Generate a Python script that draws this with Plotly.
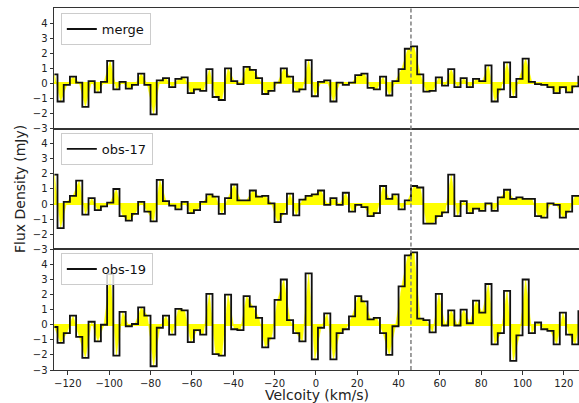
import plotly.graph_objects as go
from plotly.subplots import make_subplots

# Channel centre velocities (km/s)
velocity = [-126.5, -123.5, -120.5, -117.5, -114.5, -111.5, -108.5, -105.5, -102.5, -99.5,
            -96.5, -93.5, -90.5, -87.5, -84.5, -81.5, -78.5, -75.5, -72.5, -69.5,
            -66.5, -63.5, -60.5, -57.5, -54.5, -51.5, -48.5, -45.5, -42.5, -39.5,
            -36.5, -33.5, -30.5, -27.5, -24.5, -21.5, -18.5, -15.5, -12.5, -9.5,
            -6.5, -3.5, -0.5, 2.5, 5.5, 8.5, 11.5, 14.5, 17.5, 20.5,
            23.5, 26.5, 29.5, 32.5, 35.5, 38.5, 41.5, 44.5, 47.5, 50.5,
            53.5, 56.5, 59.5, 62.5, 65.5, 68.5, 71.5, 74.5, 77.5, 80.5,
            83.5, 86.5, 89.5, 92.5, 95.5, 98.5, 101.5, 104.5, 107.5, 110.5,
            113.5, 116.5, 119.5, 122.5, 125.5, 128.5]

merge = [0.6, -1.2, -0.1, 0.45, 0.05, -1.55, 0.15, -0.6, 0.1, 1.5,
         -0.4, 0.1, -0.35, -0.1, 0.65, -0.1, -2.05, 0.2, 0.35, -0.25,
         0.3, 0.4, -0.65, -0.4, -0.5, 0.95, -0.9, -1.1, 1.0, 0.15,
         -0.05, 1.1, 0.9, 0.35, -0.7, -0.5, 0.05, 1.0, 0.45, -0.55,
         -0.4, 1.55, -0.85, 0.1, 0.2, -1.2, 0.05, -0.1, 0.05, 0.55,
         0.65, -0.3, -0.4, 0.45, -0.8, 0.15, 0.95, 2.3, 2.45, 0.6,
         -0.55, -0.5, 0.4, -0.15, 0.95, -0.25, 0.35, -0.25, 0.3, 0.15,
         1.2, -1.2, -0.4, 1.4, -0.9, 0.3, 1.65, 0.1, -0.05, -0.1,
         -0.25, -0.65, -0.25, -0.6, -0.2, 0.45]

obs17 = [1.95, -1.6, 0.15, 0.55, 1.55, -0.7, 0.4, -0.4, -0.15, 0.1,
         1.0, -0.8, -1.1, -0.65, 0.15, -0.5, -1.15, 1.6, 0.2, -0.1,
         -0.35, 0.15, -0.6, -0.4, 0.15, 0.65, 0.5, -0.65, 0.4, 1.3,
         0.25, 0.25, 0.9, 0.5, 0.55, 0.05, -1.2, -0.65, 0.7, -0.75,
         0.3, 0.55, 0.65, 0.9, -0.05, 0.4, -0.05, 0.75, -0.5, -0.05,
         -0.2, -0.8, -0.6, 1.2, 0.35, 0.65, -0.35, 0.25, 1.2, 1.1,
         -1.3, -1.3, -0.8, -0.55, 1.95, -0.8, 0.2, -0.6, -0.3, -0.45,
         0.05, -0.45, 0.45, 0.95, 0.35, 0.45, 0.35, 0.35, -0.8, -0.9,
         0.05, -0.05, -0.9, -0.5, 0.55, 0.55]

obs19 = [-0.15, -1.2, -0.55, 0.6, -0.8, -2.2, 0.2, -1.1, 0.0, 3.35,
         -2.05, 0.85, -0.1, 0.05, 1.15, 0.6, -2.75, -0.2, 0.6, -0.65,
         1.05, 0.95, -1.15, -0.35, -0.65, 2.05, -1.95, -2.05, 2.0, -0.3,
         -0.35, 1.9, 1.2, 0.45, -1.5, -0.9, 1.65, 3.0, 0.3, -0.55,
         -1.1, 3.4, -2.3, -0.2, 0.75, -2.3, -0.55, -0.3, 0.55, 1.9,
         1.55, 0.35, 0.45, -0.55, -2.0, -0.1, 2.55, 4.6, 4.8, 0.4,
         0.3, -0.5, 2.05, -0.05, 0.95, -0.05, 1.0, 0.1, 1.6, 0.8,
         2.7, -1.3, -0.55, 2.25, -2.4, -0.7, 3.0, -0.55, 0.15, -0.3,
         -0.4, -1.3, 0.8, -0.65, -1.3, 0.9]

series_names = ["merge", "obs-17", "obs-19"]
series_values = [merge, obs17, obs19]
line_velocity = 46
x_ticks = [-120, -100, -80, -60, -40, -20, 0, 20, 40, 60, 80, 100, 120]
y_ticks = [-3, -2, -1, 0, 1, 2, 3, 4]

FONT = "DejaVu Sans"
AX = "#333333"

fig = make_subplots(rows=3, cols=1, shared_xaxes=True, vertical_spacing=0)

legend_ids = ["legend", "legend2", "legend3"]
for i, (name, vals) in enumerate(zip(series_names, series_values)):
    row = i + 1
    fig.add_trace(go.Scatter(x=velocity, y=vals, mode="lines",
                             line=dict(width=0.5, color="#ffff00"),
                             fill="tozeroy", fillcolor="#ffff00",
                             showlegend=False, hoverinfo="skip"),
                  row=row, col=1)
    fig.add_trace(go.Scatter(x=velocity, y=vals, mode="lines", name=name,
                             line=dict(color="#111111", width=1.8, shape="hvh"),
                             legend=legend_ids[i]),
                  row=row, col=1)

for row in (1, 2, 3):
    fig.update_yaxes(range=[-3, 5], tickvals=y_ticks, ticks="outside", ticklen=3.5,
                     tickwidth=1, tickcolor=AX, showline=True, linecolor=AX, linewidth=1,
                     showgrid=False, zeroline=True, zerolinecolor="#ffff00", zerolinewidth=2,
                     tickfont=dict(size=10, color="#222222", family=FONT),
                     row=row, col=1)
    fig.update_xaxes(range=[-126.7, 127.3], showline=True, mirror=True, linecolor=AX,
                     linewidth=1, showgrid=False, zeroline=False, row=row, col=1)

fig.update_xaxes(tickvals=x_ticks, ticks="outside", ticklen=3.5, tickwidth=1, tickcolor=AX,
                 tickfont=dict(size=10, color="#222222", family=FONT), row=3, col=1)

fig.add_shape(type="line", x0=line_velocity, x1=line_velocity, xref="x", yref="paper",
              y0=0, y1=1, line=dict(color="#7f7f7f", width=1.5, dash="4px,2.5px"))

legend_tops = [0.986, 0.655, 0.323]
leg_common = dict(x=0.013, xanchor="left", yanchor="top", bgcolor="rgba(255,255,255,0.8)",
                  bordercolor="#cccccc", borderwidth=1,
                  font=dict(size=13, family=FONT, color="#111111"),
                  itemwidth=30, tracegroupgap=0)

fig.update_layout(
    width=579, height=403,
    margin=dict(l=54, r=0, t=8, b=33),
    paper_bgcolor="white", plot_bgcolor="white",
    font=dict(family=FONT, color="#222222"),
    legend=dict(y=legend_tops[0], **leg_common),
    legend2=dict(y=legend_tops[1], **leg_common),
    legend3=dict(y=legend_tops[2], **leg_common),
    annotations=[
        dict(text="Flux Density (mJy)", xref="paper", yref="paper", x=0, y=0.5,
             xanchor="center", yanchor="middle", xshift=-34, textangle=-90,
             showarrow=False, font=dict(size=14, family=FONT, color="#222222")),
        dict(text="Velcoity (km/s)", xref="paper", yref="paper", x=0.5, y=0,
             xanchor="center", yanchor="middle", yshift=-25,
             showarrow=False, font=dict(size=14, family=FONT, color="#222222")),
    ],
)

fig.write_html("out.html", config={"displayModeBar": False},
               post_script="document.body.style.margin='0';document.body.style.overflow='hidden';")
